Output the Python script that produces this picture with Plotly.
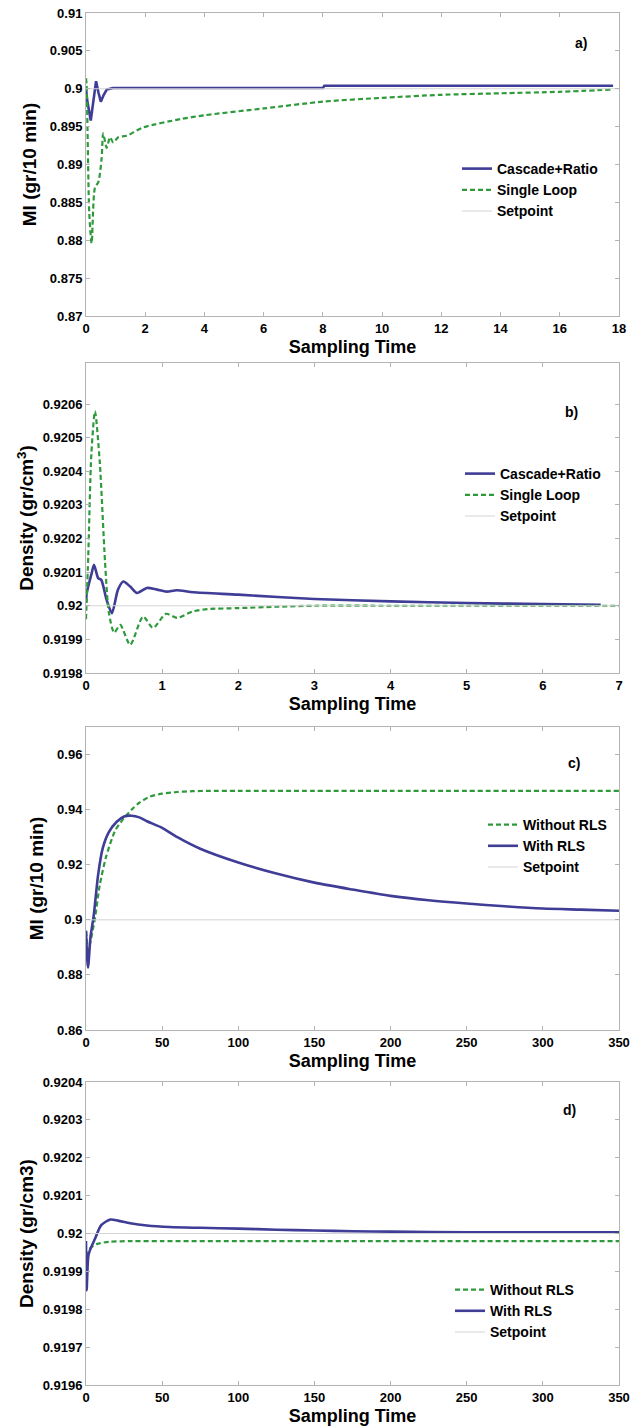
import plotly.graph_objects as go

# ---------------- data ----------------
# Panel a: MI, Cascade+Ratio vs Single Loop
a_casc_t = [0, 0.04, 0.16, 0.25, 0.34, 0.42, 0.5, 0.6, 0.7, 0.91, 2, 4, 6, 8, 8.05, 10, 12, 14, 16, 17.8]
a_casc_v = [0.9, 0.8985, 0.8958, 0.8985, 0.901, 0.8995, 0.8983, 0.8992, 0.8999, 0.9001, 0.9001, 0.9001, 0.9001, 0.9001, 0.9004, 0.9004, 0.9004, 0.9004, 0.9004, 0.9004]
a_single_t = [0, 0.02, 0.11, 0.19, 0.3, 0.42, 0.53, 0.58, 0.7, 0.81, 0.92, 1.09, 1.37, 1.94, 3.2, 4, 6, 8, 10, 12, 14, 16, 17.8]
a_single_v = [0.9014, 0.9005, 0.8836, 0.8796, 0.8869, 0.8877, 0.8909, 0.8941, 0.8922, 0.8936, 0.8929, 0.8936, 0.8938, 0.8949, 0.896, 0.8965, 0.8974, 0.8983, 0.8988, 0.8992, 0.8994, 0.8996, 0.8999]
a_setpoint = 0.9

# Panel b: Density, Cascade+Ratio vs Single Loop
b_casc_t = [0, 0.01, 0.075, 0.105, 0.16, 0.2, 0.27, 0.34, 0.42, 0.49, 0.58, 0.67, 0.8, 0.93, 1.06, 1.19, 1.41, 2, 3, 4, 5, 6, 6.76]
b_casc_v = [0.92001, 0.920038, 0.920097, 0.920122, 0.920082, 0.920077, 0.920018, 0.919978, 0.920048, 0.920072, 0.920057, 0.920038, 0.920053, 0.920048, 0.920042, 0.920046, 0.92004, 0.920033, 0.92002, 0.920013, 0.920008, 0.920005, 0.920003]
b_single_t = [0, 0.03, 0.07, 0.118, 0.18, 0.25, 0.3, 0.37, 0.45, 0.58, 0.75, 0.88, 1.05, 1.2, 1.4, 1.6, 2, 2.5, 3, 4, 5, 6, 7]
b_single_v = [0.91996, 0.92015, 0.92045, 0.920578, 0.92043, 0.92013, 0.91998, 0.91992, 0.919943, 0.919884, 0.919968, 0.919934, 0.919976, 0.919964, 0.919983, 0.91999, 0.919993, 0.919997, 0.92, 0.92, 0.92, 0.92, 0.92]
b_setpoint = 0.92

# Panel c: MI, Without RLS vs With RLS
c_with_t = [0, 1.3, 3, 5, 8, 11, 15, 20, 25, 30, 35, 40, 50, 60, 75, 100, 125, 150, 175, 200, 225, 250, 275, 300, 325, 350]
c_with_v = [0.896, 0.8827, 0.894, 0.9012, 0.9165, 0.926, 0.9318, 0.9355, 0.9375, 0.9378, 0.9372, 0.9358, 0.9334, 0.93, 0.9258, 0.9208, 0.9168, 0.9135, 0.911, 0.9087, 0.9071, 0.9059, 0.9049, 0.9041, 0.9037, 0.9033]
c_without_t = [0, 1.5, 4, 6, 9, 13, 19, 25, 30, 35, 42, 50, 60, 70, 80, 100, 150, 200, 250, 300, 350]
c_without_v = [0.896, 0.889, 0.895, 0.901, 0.9125, 0.9225, 0.9322, 0.937, 0.94, 0.9425, 0.9447, 0.9458, 0.9464, 0.9467, 0.9468, 0.9468, 0.9468, 0.9468, 0.9468, 0.9468, 0.9468]
c_setpoint = 0.9

# Panel d: Density, Without RLS vs With RLS
d_with_t = [0, 0.4, 1.5, 2.6, 6, 10, 16, 21, 29, 40, 55, 75, 100, 125, 150, 175, 200, 250, 300, 350]
d_with_v = [0.91998, 0.91985, 0.91994, 0.919956, 0.919987, 0.920022, 0.920037, 0.920034, 0.920027, 0.920021, 0.920017, 0.920015, 0.920013, 0.92001, 0.920008, 0.920006, 0.920005, 0.920003, 0.920003, 0.920003]
d_without_t = [0, 1, 3, 7, 15, 30, 50, 100, 200, 350]
d_without_v = [0.91994, 0.91995, 0.919962, 0.919972, 0.919978, 0.91998, 0.91998, 0.91998, 0.91998, 0.91998]
d_setpoint = 0.92

a_xticks = [0, 2, 4, 6, 8, 10, 12, 14, 16, 18]
a_yticks = [0.87, 0.875, 0.88, 0.885, 0.89, 0.895, 0.9, 0.905, 0.91]
a_ytext = ["0.87", "0.875", "0.88", "0.885", "0.89", "0.895", "0.9", "0.905", "0.91"]
b_xticks = [0, 1, 2, 3, 4, 5, 6, 7]
b_yticks = [0.9198, 0.9199, 0.92, 0.9201, 0.9202, 0.9203, 0.9204, 0.9205, 0.9206]
b_ytext = ["0.9198", "0.9199", "0.92", "0.9201", "0.9202", "0.9203", "0.9204", "0.9205", "0.9206"]
c_xticks = [0, 50, 100, 150, 200, 250, 300, 350]
c_yticks = [0.86, 0.88, 0.9, 0.92, 0.94, 0.96]
c_ytext = ["0.86", "0.88", "0.9", "0.92", "0.94", "0.96"]
d_yticks = [0.9196, 0.9197, 0.9198, 0.9199, 0.92, 0.9201, 0.9202, 0.9203, 0.9204]
d_ytext = ["0.9196", "0.9197", "0.9198", "0.9199", "0.92", "0.9201", "0.9202", "0.9203", "0.9204"]

# ---------------- style ----------------
W, H = 641, 1427
BLUE = "#3f3d96"
GREEN = "#2f9a3c"
SETC = "#d4d4d4"
FRAME = "#b4b4b4"
FONT = "Liberation Sans, Arial, sans-serif"

X0, X1 = 86, 619
panels = [(13, 316), (363, 673), (727, 1030), (1082, 1385)]

def ydom(top, bot):
    return [1 - bot / H, 1 - top / H]

fig = go.Figure()

def add_line(x, y, name, color, width, dash, idx, legend, shape="linear"):
    sfx = "" if idx == 1 else str(idx)
    fig.add_trace(go.Scatter(x=x, y=y, name=name, mode="lines",
                             line=dict(color=color, width=width, dash=dash,
                                       shape=shape, smoothing=0.7),
                             xaxis="x" + sfx, yaxis="y" + sfx, legend=legend,
                             showlegend=True))

DASH = "5px,3px"
# a
add_line(a_casc_t, a_casc_v, "Cascade+Ratio", BLUE, 2.6, "solid", 1, "legend")
add_line(a_single_t, a_single_v, "Single Loop", GREEN, 2.2, DASH, 1, "legend", "spline")
add_line([0, 18], [a_setpoint, a_setpoint], "Setpoint", SETC, 1, "solid", 1, "legend")
# b
add_line(b_casc_t, b_casc_v, "Cascade+Ratio", BLUE, 2.6, "solid", 2, "legend2", "spline")
add_line(b_single_t, b_single_v, "Single Loop", GREEN, 2.2, DASH, 2, "legend2", "spline")
add_line([0, 7], [b_setpoint, b_setpoint], "Setpoint", SETC, 1, "solid", 2, "legend2")
# c
add_line(c_without_t, c_without_v, "Without RLS", GREEN, 2.2, DASH, 3, "legend3", "spline")
add_line(c_with_t, c_with_v, "With RLS", BLUE, 2.6, "solid", 3, "legend3", "spline")
add_line([0, 350], [c_setpoint, c_setpoint], "Setpoint", SETC, 1, "solid", 3, "legend3")
# d
add_line(d_without_t, d_without_v, "Without RLS", GREEN, 2.2, DASH, 4, "legend4", "spline")
add_line(d_with_t, d_with_v, "With RLS", BLUE, 2.6, "solid", 4, "legend4", "spline")
add_line([0, 350], [d_setpoint, d_setpoint], "Setpoint", SETC, 1, "solid", 4, "legend4")

tickfont = dict(family=FONT, size=13, color="black", weight="bold")
xtitlefont = dict(family=FONT, size=18, color="black", weight="bold")
ytitlefont = dict(family=FONT, size=19, color="black", weight="bold")

def xax(rng, ticks, anchor):
    return dict(domain=[X0 / W, X1 / W], range=rng, tickvals=ticks,
                ticktext=[str(t) for t in ticks], anchor=anchor, automargin=False,
                showgrid=False, zeroline=False, showline=True, mirror="allticks",
                linecolor=FRAME, linewidth=1, ticks="inside", ticklen=4,
                tickcolor=FRAME, tickfont=tickfont,
                title=dict(text="Sampling Time", font=xtitlefont, standoff=5))

def yax(rng, ticks, text, anchor, top, bot, title, standoff):
    return dict(domain=ydom(top, bot), range=rng, tickvals=ticks, ticktext=text,
                anchor=anchor, automargin=False, showgrid=False, zeroline=False,
                showline=True, mirror="allticks", linecolor=FRAME, linewidth=1,
                ticks="inside", ticklen=4, tickcolor=FRAME, tickfont=tickfont,
                title=dict(text=title, font=ytitlefont, standoff=standoff))

layout = dict(
    template="none",
    width=W, height=H, margin=dict(l=0, r=0, t=0, b=0),
    paper_bgcolor="white", plot_bgcolor="white",
    font=dict(family=FONT, color="black"),
    xaxis=xax([0, 18], a_xticks, "y"),
    xaxis2=xax([0, 7], b_xticks, "y2"),
    xaxis3=xax([0, 350], c_xticks, "y3"),
    xaxis4=xax([0, 350], c_xticks, "y4"),
    yaxis=yax([0.87, 0.91], a_yticks, a_ytext, "x", *panels[0], "MI (gr/10 min)", 8),
    yaxis2=yax([0.9198, 0.920722], b_yticks, b_ytext, "x2", *panels[1], "Density (gr/cm<sup>3</sup>)", 3),
    yaxis3=yax([0.86, 0.97], c_yticks, c_ytext, "x3", *panels[2], "MI (gr/10 min)", 8),
    yaxis4=yax([0.9196, 0.9204], d_yticks, d_ytext, "x4", *panels[3], "Density (gr/cm3)", 3),
)

legfont = dict(family=FONT, size=14, color="black", weight="bold")
def leg(xpx, ypx):
    return dict(x=xpx / W, y=1 - ypx / H, xanchor="left", yanchor="top",
                bgcolor="rgba(0,0,0,0)", borderwidth=0, font=legfont,
                tracegroupgap=0, itemwidth=30)

layout["legend"] = leg(457, 153)
layout["legend2"] = leg(460, 458)
layout["legend3"] = leg(483, 809)
layout["legend4"] = leg(450, 1274)

labels = [("a)", 589, 33), ("b)", 580, 402), ("c)", 582, 763), ("d)", 578, 1120)]
layout["annotations"] = [
    dict(text=t, x=xp / W, y=1 - yp / H, xref="paper", yref="paper",
         showarrow=False, font=dict(family=FONT, size=14, color="black", weight="bold"))
    for t, xp, yp in labels
]

fig.update_layout(**layout)
fig.write_html("out.html")
